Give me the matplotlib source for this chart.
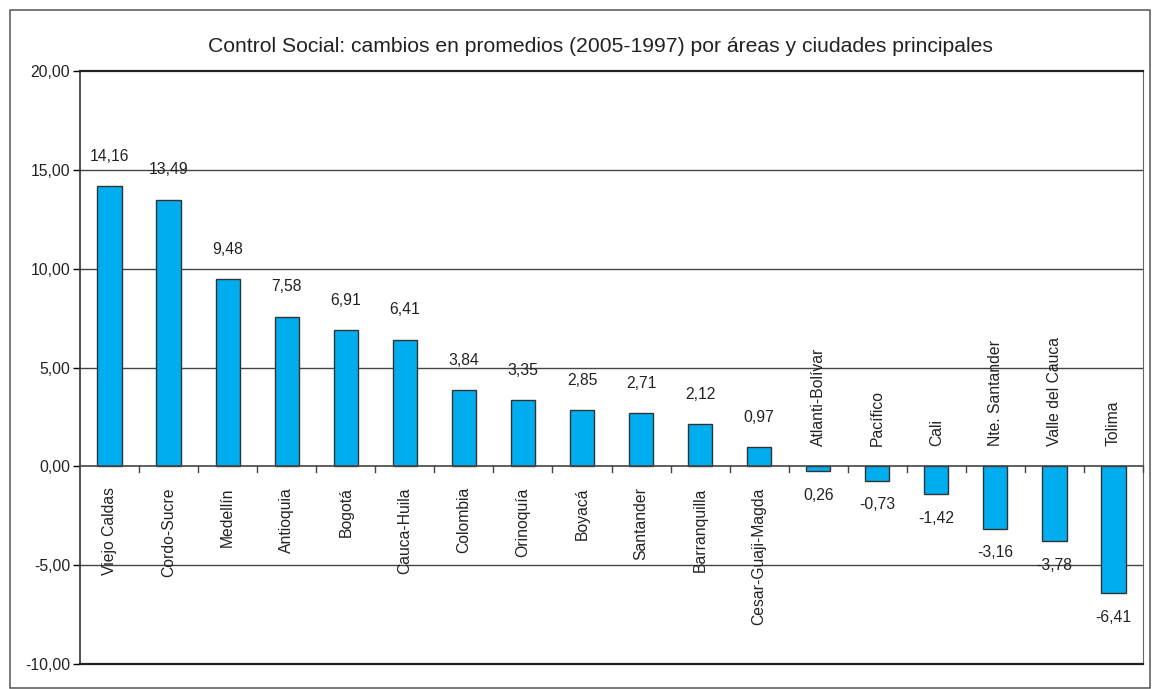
import matplotlib.pyplot as plt
from matplotlib.patches import Rectangle

plt.rcParams['font.family'] = ['Liberation Sans', 'DejaVu Sans']

# datos
areas = ["Viejo Caldas", "Cordo-Sucre", "Medellín", "Antioquia", "Bogotá",
         "Cauca-Huila", "Colombia", "Orinoquía", "Boyacá", "Santander",
         "Barranquilla", "Cesar-Guaji-Magda", "Atlanti-Bolívar", "Pacífico",
         "Cali", "Nte. Santander", "Valle del Cauca", "Tolima"]
cambios = [14.16, 13.49, 9.48, 7.58, 6.91, 6.41, 3.84, 3.35, 2.85, 2.71,
           2.12, 0.97, -0.26, -0.73, -1.42, -3.16, -3.78, -6.41]
etiquetas = ["14,16", "13,49", "9,48", "7,58", "6,91", "6,41", "3,84", "3,35",
             "2,85", "2,71", "2,12", "0,97", "0,26", "-0,73", "-1,42", "-3,16",
             "-3,78", "-6,41"]
yticks = [-10, -5, 0, 5, 10, 15, 20]

W, H = 1156, 689
fs = 11.3
txt = "#222222"
fig = plt.figure(figsize=(W / 100, H / 100), dpi=100)
# marco exterior
fig.patches.append(Rectangle((10 / W, 1 / H), 1140 / W, 678 / H, transform=fig.transFigure,
                             fill=False, edgecolor="#555555", linewidth=1.1))

x0, x1, ytop, ybot = 80, 1143, 71, 664
ax = fig.add_axes([x0 / W, 1 - ybot / H, (x1 - x0) / W, (ybot - ytop) / H])

n = len(areas)
xs = list(range(n))
ax.bar(xs, cambios, width=0.41, color="#00AEEF", edgecolor="#333333", linewidth=1, zorder=3)

ax.set_xlim(-0.5, n - 0.5)
ax.set_ylim(-10, 20)
ax.set_yticks(yticks)
ax.set_yticklabels([f"{v:.2f}".replace(".", ",") for v in yticks], fontsize=fs, color=txt)
ax.tick_params(axis="y", direction="out", length=5, width=1, pad=2)
ax.set_xticks([])

for v in [-5, 5, 10, 15]:
    ax.axhline(v, color="#444444", linewidth=1, zorder=1)
ax.axhline(0, color="#444444", linewidth=1.2, zorder=4)
# marcas del eje de categorías sobre la línea cero
for i in range(1, n + 1):
    ax.plot([i - 0.5, i - 0.5], [0, -0.3], color="#444444", linewidth=1, zorder=4, clip_on=False)

for s in ["top", "bottom"]:
    ax.spines[s].set_linewidth(1.6)
    ax.spines[s].set_color("#222222")
ax.spines["left"].set_linewidth(1.2)
ax.spines["left"].set_color("#333333")
ax.spines["right"].set_color("#666666")

for i, (nombre, val, lab) in enumerate(zip(areas, cambios, etiquetas)):
    if val >= 0:
        ax.annotate(nombre, (i, 0), xytext=(0, -15), textcoords="offset points",
                    rotation=90, ha="center", va="top", fontsize=fs, color=txt)
        ax.annotate(lab, (i, val), xytext=(0, 16), textcoords="offset points",
                    ha="center", va="bottom", fontsize=fs, color=txt)
    else:
        ax.annotate(nombre, (i, 0), xytext=(0, 15), textcoords="offset points",
                    rotation=90, ha="center", va="bottom", fontsize=fs, color=txt)
        ax.annotate(lab, (i, val), xytext=(0, -12), textcoords="offset points",
                    ha="center", va="top", fontsize=fs, color=txt)

fig.text(600 / W, 1 - 46 / H,
         "Control Social: cambios en promedios (2005-1997) por áreas y ciudades principales",
         ha="center", va="center", fontsize=15.2, color=txt)

fig.savefig("out.png", dpi=100)
